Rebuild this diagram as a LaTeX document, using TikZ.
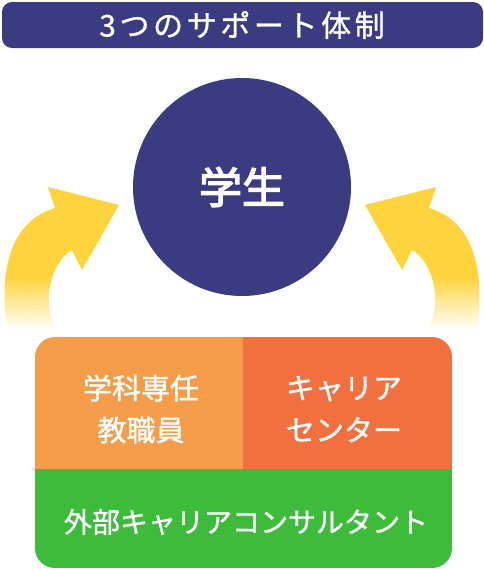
\documentclass[tikz,border=0pt]{standalone}
\usepackage{fontspec}
\newfontfamily\jpfont[FakeBold=1.2]{Noto Sans CJK JP}
\newfontfamily\jptitle[LetterSpace=12, FakeBold=1]{Noto Sans CJK JP}
\newfontfamily\jpstudent[FakeBold=3]{Noto Sans CJK JP}
\usetikzlibrary{shadings}

\definecolor{navy}{HTML}{3B3B82}
\definecolor{supportyellow}{HTML}{FFD33B}
\definecolor{facultyorange}{HTML}{F59C48}
\definecolor{careerorange}{HTML}{F2703F}
\definecolor{consultgreen}{HTML}{3DBB3A}

\pgfdeclareverticalshading{arrowfade}{100bp}{color(0bp)=(white); color(27bp)=(white); color(45bp)=(supportyellow); color(100bp)=(supportyellow)}

\begin{document}
\begin{tikzpicture}
  [
    x=1pt, y=1pt,
    bar/.style = {fill=navy, rounded corners=10pt},
    student/.style = {circle, fill=navy, minimum size=218pt, inner sep=0pt, text=white, font=\jpstudent\fontsize{43}{43}\selectfont},
    boxtext/.style = {text=white, align=center, inner sep=0pt, font=\jpfont\fontsize{29}{42}\selectfont},
    bendarrow/.style = {shading=arrowfade},
  ]

  \useasboundingbox (0,0) rectangle (484,-570);

  % title bar
  \fill[bar] (2,-2) rectangle (483,-48);
  \node (title) at (242,-25) [text=white, inner sep=0pt, font=\jptitle\fontsize{30}{30}\selectfont] {3つのサポート体制};

  % the student
  \node (student) at (242,-187) [student] {学生};

  % curved arrows (left one, then its mirror image)
  \def\arrowpath{(8,-336) .. controls (-2,-275) and (8,-222) .. (55,-208) -- (48,-187) -- (119,-205) -- (82,-270) -- (72,-250) .. controls (50,-262) and (38,-310) .. (62,-336) -- cycle}
  \shade[bendarrow] \arrowpath;
  \begin{scope}[xshift=484pt, xscale=-1]
    \shade[bendarrow] \arrowpath;
  \end{scope}

  % the three supporters
  \begin{scope}
    \clip[rounded corners=20pt] (35,-337) rectangle (452,-568);
    \fill[facultyorange] (35,-337) rectangle (243.5,-469.5);
    \fill[careerorange] (243,-337) rectangle (452,-469.5);
    \fill[consultgreen] (35,-469) rectangle (452,-568);
  \end{scope}
  \node (faculty) at (141,-409) [boxtext] {学科専任\\教職員};
  \node (career) at (344,-409) [boxtext] {キャリア\\センター};
  \node (consultant) at (246,-522) [boxtext, font=\jpfont\fontsize{28}{28}\selectfont] {外部キャリアコンサルタント};
\end{tikzpicture}
\end{document}
